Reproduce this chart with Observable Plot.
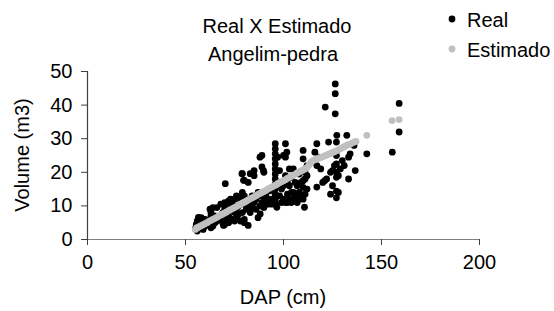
<!DOCTYPE html>
<html><head><meta charset="utf-8">
<script src="https://cdn.jsdelivr.net/npm/d3@7"></script>
<script src="https://cdn.jsdelivr.net/npm/@observablehq/plot@0.6"></script>
<style>
body{margin:0;background:#fff;}
#wrap{position:relative;width:554px;height:311px;}
</style></head><body><div id="wrap"></div>
<script>
const title = ["Real X Estimado", "Angelim-pedra"];
const xLabel = "DAP (cm)";
const yLabel = "Volume (m3)";
const seriesNames = ["Real", "Estimado"];
const xTicks = [0, 50, 100, 150, 200];
const yTicks = [0, 10, 20, 30, 40, 50];

// Real: DAP (cm), Volume (m3)
const realDAP = [
 55.5,56,56,56.6,57,57,58,58,59,59,60,60,61,55,56.7,
 62.5,62.6,63,63,63,63,64,64,65,65,66,66,64,
 68,68,69,69,69.4,70.3,70,70,70,71,71,72,72,72,
 73,73,74,74,75,75,75,76,76,76,77,77,78,78,78,
 79,79,79,80,80,80,80,80,81,81,82,82,82,83,83,83,84,84,78.8,79.6,83.9,
 85,85,85,86,86,87,87,88,88,88,89,89,89,90,90,90,90,88.1,89.8,
 91,91,92,92,93,93,94,94,95,95.8,95.8,95.8,95.8,95.8,95.8,95.8,95.8,95.8,95.8,95.8,95.8,95.8,96,97,96.6,
 98,99,100,100,101,101,101,102,102,103,103,104,104,105,105,105,98,99,100,101,102,103,104,101.7,
 106,107,107,108,108,109,110,110,110,110,110.7,111,111,112,112,106,107,108,109,110,111,112,
 116,117,117,117,118,119,120,121.3,121,122,
 123,124,124,125,125,126,126.4,126.4,126.4,127.2,127,127,127,127,127,127,127,128,128,129,130,131,
 132.3,133.2,133.2,134,136.6,136,142.5,155.5,159,159
];
const realVol = [
 4.5,2.5,5.5,6.6,6,3.5,4.5,6.5,3,5,4,6,5,3.2,6.2,
 9,5.6,8,7,5.5,3.5,4,6.5,7,5,5.5,9.5,9.5,
 10.5,6,5,8,4.2,16.6,11,9,4.5,6,10,7,11.5,5,
 9,12,6,10.5,8,12,5.5,9,13,6.5,10,7.5,11,12.5,5.5,
 19.6,14,8,17.6,13,10.5,6,5,9,12,17,4.2,11,10,19.6,8,13,9.5,19.6,17.6,19.6,
 19,20.5,11,12,9,14,6.5,24.5,10,13,21.6,25,11,20,12.5,9.5,14,7.6,20.5,
 11,13,10.5,12,11.5,14.5,10.5,12,11.5,28.5,27,25.5,24,22.5,21,19.5,18,16.5,15,13.5,12,11,10.5,24.5,9.6,
 20.5,11,25,12,28.5,24.5,11,13.5,17,12,21,18.5,11,21,14,12,13,15,16,19,11,16,14,26,
 12.5,16,13,19.5,14,17,26.5,24,17.5,15.5,9.6,13.5,20,22,19,17,11,12,13,12,18,15,
 26,28.5,15.6,22,24.5,21,17,39.4,17.5,18,
 29,13.5,20,20.5,16,22,46.3,43.4,37.4,31,29,25,22.5,20,18.5,14.4,12.4,19,14,21,23.5,22,
 31,24.5,18,25.5,20.5,28,25.5,26,32,40.5
];

// Estimado: DAP (cm), estimated volume (m3)
const estDAP = [
 55,55.8,56,57,58,59,60,61,62,63,64,65,66,67,68,69,70,71,72,73,74,75,76,77,78,79,80,
 81,82,83,84,85,86,87,88,89,90,91,92,93,94,95,96,97,98,99,100,101,102,103,104,105,
 106,107,108,109,110,111,112,113,114,115,116,117,118,119,120,121,122,123,124,125,126,
 127,128,129,130,131,132,133,134,135,136,137,142.5,155.4,159
];
const estVol = [
 3.0,3.5,3.4,3.8,4.1,4.4,4.7,5.0,5.4,5.7,6.0,6.3,6.6,7.0,7.3,7.6,7.9,8.2,8.6,8.9,9.2,9.5,9.8,10.2,10.5,10.8,11.1,
 11.4,11.8,12.1,12.4,12.7,13.0,13.4,13.7,14.0,14.3,14.6,15.0,15.3,15.6,15.9,16.2,16.6,16.9,17.2,17.5,17.8,18.2,18.5,18.8,19.1,
 19.4,19.8,20.1,20.4,20.7,21.0,21.4,22.2,23.0,23.5,23.7,24.0,24.2,24.4,24.6,24.9,25.1,25.4,25.6,25.9,26.1,
 26.4,26.7,27.0,27.3,27.6,27.9,28.2,28.4,28.7,29.0,29.2,31.0,35.4,35.7
];

const real = realDAP.map((d, i) => ({dap: d, vol: realVol[i]}));
const est = estDAP.map((d, i) => ({dap: d, vol: estVol[i]}));

const font = "'Liberation Sans', Arial, sans-serif";
const fs = 20;
const chart = Plot.plot({
  width: 554, height: 311,
  marginLeft: 87, marginRight: 75, marginTop: 71, marginBottom: 72,
  style: {fontFamily: font, fontSize: fs + "px", color: "#000", background: "#fff"},
  x: {domain: [0, 200]},
  y: {domain: [0, 50]},
  marks: [
    Plot.ruleY([0], {stroke: "#808080", strokeWidth: 1.2}),
    Plot.ruleX([0], {stroke: "#404040", strokeWidth: 1.2}),
    Plot.axisY({ticks: yTicks, tickSize: 6, tickPadding: 9, label: null, stroke: "#404040", fill: "#000", fontSize: fs}),
    Plot.axisX({ticks: xTicks, tickSize: 6, tickPadding: 9, label: null, stroke: "#404040", fill: "#000", fontSize: fs}),
    Plot.dot(real, {x: "dap", y: "vol", r: 3.4, fill: "#000", stroke: null}),
    Plot.dot(est, {x: "dap", y: "vol", r: 3.4, fill: "#c0c0c0", stroke: null})
  ]
});
document.getElementById("wrap").appendChild(chart);

const svg = d3.select(chart);
const addText = (txt, x, y, anchor, extra) => {
  const t = svg.append("text").attr("x", x).attr("y", y).attr("text-anchor", anchor)
    .attr("font-family", font).attr("font-size", fs).attr("fill", "#000").text(txt);
  if (extra) extra(t);
  return t;
};
addText(title[0], 277, 33, "middle");
addText(title[1], 273, 61, "middle");
addText(xLabel, 283, 304, "middle");
addText(yLabel, 0, 0, "middle", t => t.attr("transform", "translate(29,155) rotate(-90)"));
// legend
const legendColors = ["#000", "#c0c0c0"];
seriesNames.forEach((s, i) => {
  svg.append("circle").attr("cx", 452).attr("cy", 19 + i * 30).attr("r", 3.4).attr("fill", legendColors[i]);
  addText(s, 467, 27 + i * 30, "start");
});
</script></body></html>
